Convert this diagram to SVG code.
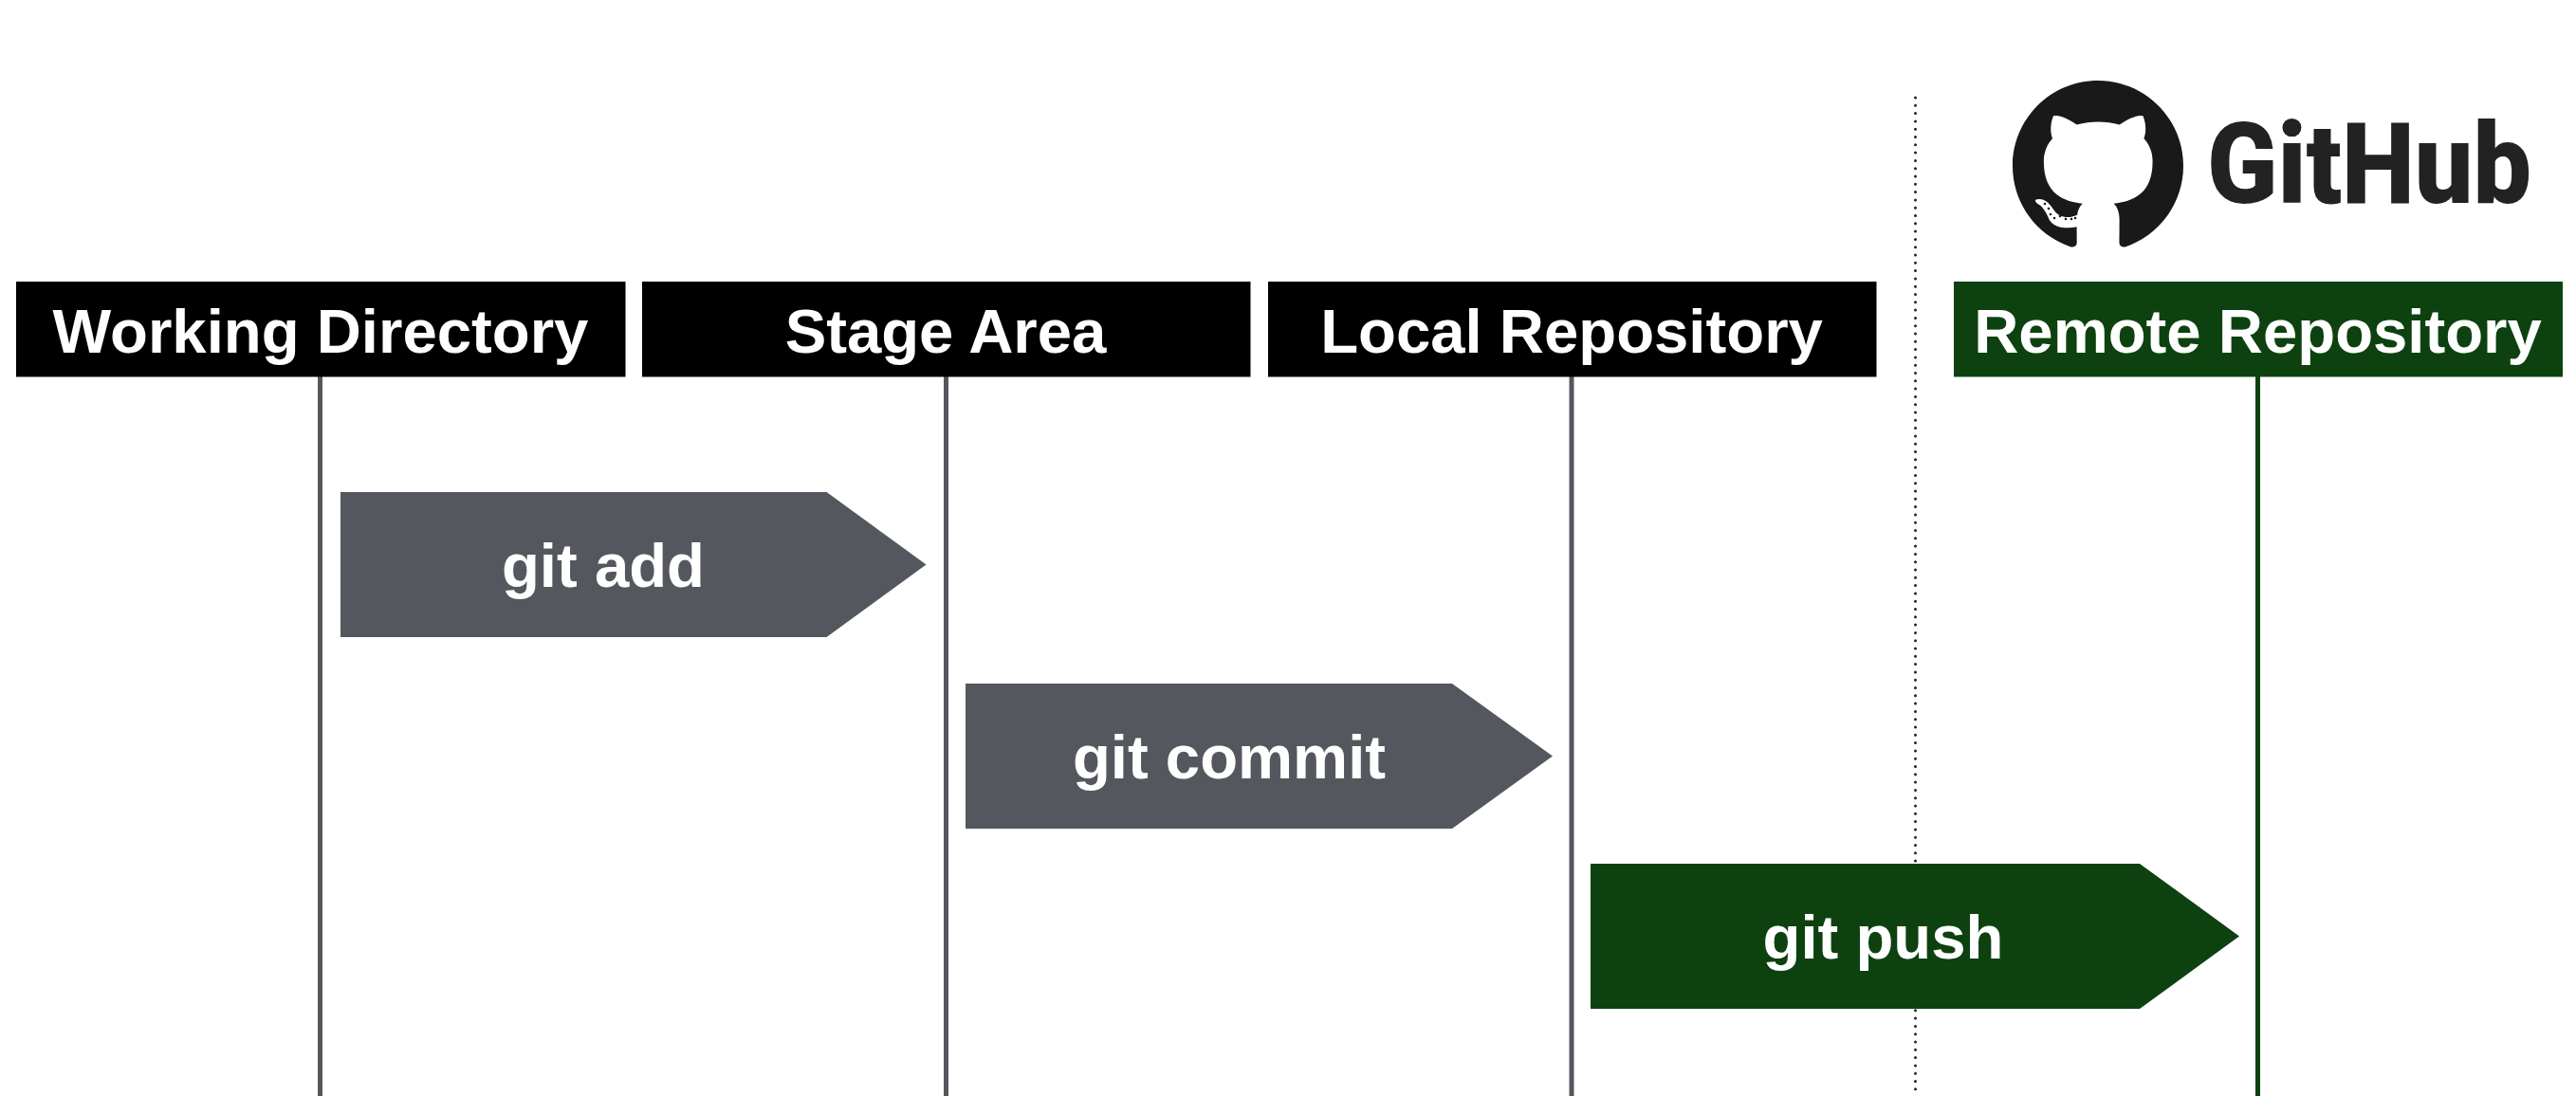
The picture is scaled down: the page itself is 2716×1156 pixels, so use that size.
<svg xmlns="http://www.w3.org/2000/svg" width="2716" height="1156" viewBox="0 0 2716 1156">
<style>
.t{font-family:"Liberation Sans",Arial,sans-serif;font-weight:700;font-size:65.300px;fill:#fff;text-anchor:middle}
.g{fill:#54585e}.gr{fill:#0d4210}.k{fill:#000}
.ln{stroke-width:5;fill:none}
</style>
<rect width="2716" height="1156" fill="#fff"/>
<g id="connectors">
<line class="ln" x1="337.500" y1="396" x2="337.500" y2="1156" stroke="#54585e"/>
<line class="ln" x1="997.500" y1="396" x2="997.500" y2="1156" stroke="#54585e"/>
<line class="ln" x1="1657" y1="396" x2="1657" y2="1156" stroke="#54585e"/>
<line class="ln" x1="2380.500" y1="396" x2="2380.500" y2="1156" stroke="#0d4210"/>
<line x1="2019.500" y1="103" x2="2019.500" y2="1156" stroke="#222" stroke-width="3" stroke-linecap="round" stroke-dasharray="0 8.300"/>
</g>
<g id="logo">
<path fill="#1a1919" transform="translate(2122 85) scale(11.25)" d="M8 0C3.58 0 0 3.58 0 8c0 3.54 2.29 6.53 5.47 7.59.4.07.55-.17.55-.38 0-.19-.01-.82-.01-1.490-2.010.37-2.530-.49-2.690-.94-.09-.23-.48-.94-.82-1.130-.28-.15-.68-.52-.01-.53.63-.01 1.080.58 1.230.82.72 1.210 1.870.87 2.330.66.07-.52.28-.87.51-1.070-1.780-.2-3.640-.89-3.640-3.950 0-.87.31-1.590.82-2.150-.08-.2-.36-1.020.08-2.120 0 0 .67-.21 2.200.82.64-.18 1.320-.27 2-.27.68 0 1.360.09 2 .27 1.530-1.040 2.200-.82 2.200-.82.44 1.100.16 1.920.08 2.120.51.56.82 1.270.82 2.150 0 3.070-1.870 3.750-3.650 3.950.29.25.54.73.54 1.480 0 1.070-.01 1.930-.01 2.200 0 .21.15.46.55.38A8.013 8.013 0 0016 8c0-4.420-3.580-8-8-8z"/>
<g fill="#1a1919"><circle cx="2156" cy="215" r="1.300"/><circle cx="2160" cy="220" r="1.300"/><circle cx="2162" cy="226" r="1.300"/><circle cx="2166" cy="230" r="1.300"/><circle cx="2172" cy="228" r="1.300"/><circle cx="2178" cy="231" r="1.300"/><circle cx="2184" cy="231" r="1.300"/><circle cx="2188" cy="230" r="1.300"/></g>
<text x="2327" y="214" textLength="342" lengthAdjust="spacingAndGlyphs" font-family="Roboto,'Open Sans',sans-serif" font-weight="900" font-size="119" fill="#222">GitHub</text>
</g>
<g id="working-directory"><rect class="k" x="17" y="297" width="642.500" height="100.500"/><text class="t" x="338" y="372">Working Directory</text></g>
<g id="stage-area"><rect class="k" x="677" y="297" width="641.500" height="100.500"/><text class="t" x="997" y="372">Stage Area</text></g>
<g id="local-repository"><rect class="k" x="1337" y="297" width="641.500" height="100.500"/><text class="t" x="1657" y="372">Local Repository</text></g>
<g id="remote-repository"><rect class="gr" x="2060" y="297" width="642" height="100.500"/><text class="t" x="2380.500" y="372">Remote Repository</text></g>
<g id="git-add"><polygon class="g" points="359,519 871.500,519 976.500,595.500 871.500,672 359,672"/><text class="t" x="636" y="619">git add</text></g>
<g id="git-commit"><polygon class="g" points="1018,721 1531,721 1637,797.500 1531,874 1018,874"/><text class="t" x="1296" y="821">git commit</text></g>
<g id="git-push"><polygon class="gr" points="1677,911 2256,911 2361,987.500 2256,1064 1677,1064"/><text class="t" x="1985.500" y="1011">git push</text></g>
</svg>
